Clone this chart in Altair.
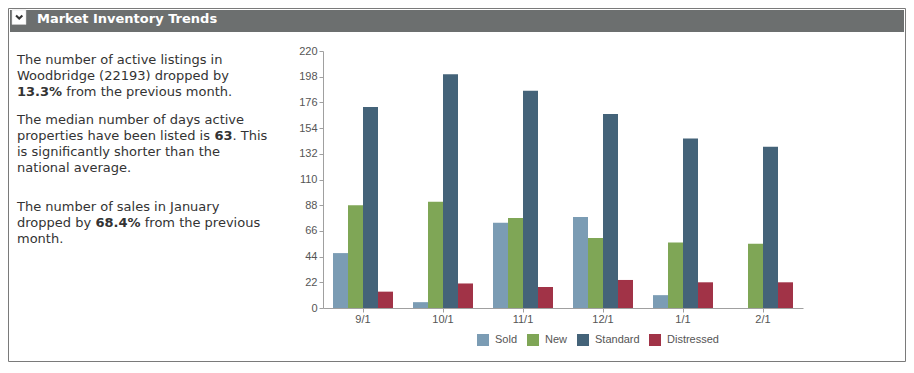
import altair as alt
import pandas as pd

# ---- data ----
months = ["9/1", "10/1", "11/1", "12/1", "1/1", "2/1"]
series = ["Sold", "New", "Standard", "Distressed"]
sold = [47, 5, 73, 78, 11, 0]
new = [88, 91, 77, 60, 56, 55]
standard = [172, 200, 186, 166, 145, 138]
distressed = [14, 21, 18, 24, 22, 22]
colors = ["#7b9cb4", "#7fa656", "#446379", "#a13347"]
y_ticks = list(range(0, 221, 22))

header_title = "Market Inventory Trends"
# each line: list of (text, bold) segments
paragraphs = [
    [[("The number of active listings in", False)],
     [("Woodbridge (22193) dropped by", False)],
     [("13.3%", True), (" from the previous month.", False)]],
    [[("The median number of days active", False)],
     [("properties have been listed is ", False), ("63", True), (". This", False)],
     [("is significantly shorter than the", False)],
     [("national average.", False)]],
    [[("The number of sales in January", False)],
     [("dropped by ", False), ("68.4%", True), (" from the previous", False)],
     [("month.", False)]],
]
para_baselines = [[64, 80, 96], [124, 140, 156, 172], [211, 227, 243]]

rows = []
for i, m in enumerate(months):
    for s, vals in zip(series, [sold, new, standard, distressed]):
        rows.append({"month": m, "series": s, "value": vals[i]})
df = pd.DataFrame(rows)

# ---- layout helpers (page px -> plot px) ----
PLOT_X0, PLOT_Y0 = 323, 51
W, H = 480, 257
TOTAL_W, TOTAL_H = 898, 355


def px(v):
    return v - PLOT_X0


def py(v):
    return v - PLOT_Y0


# approximate DejaVu Sans advance widths (units per em 2048)
REG = {" ": 651, "a": 1255, "b": 1300, "c": 1126, "d": 1300, "e": 1260, "f": 721,
       "g": 1300, "h": 1298, "i": 569, "l": 569, "m": 1995, "n": 1298, "o": 1253,
       "p": 1300, "r": 842, "s": 1067, "t": 803, "u": 1298, "v": 1212, "y": 1212}
BOLD = {"0": 1425, "1": 1425, "2": 1425, "3": 1425, "4": 1425, "5": 1425,
        "6": 1425, "7": 1425, "8": 1425, "9": 1425, ".": 780, "%": 2052, " ": 713}
FS = 13


def tw(s, bold):
    table = BOLD if bold else REG
    return sum(table.get(c, 1250) for c in s) / 2048 * FS


one = pd.DataFrame({"k": [0]})
TEXT_FONT = "DejaVu Sans"

layers = []
# outer border
layers.append(alt.Chart(one).mark_rect(fill="#ffffff", fillOpacity=0, stroke="#7a7a7a", strokeWidth=1).encode(
    x=alt.value(px(8.5)), x2=alt.value(px(905.5)), y=alt.value(py(8.5)), y2=alt.value(py(361.5))))
# header bar
layers.append(alt.Chart(one).mark_rect(fill="#6c6f6f").encode(
    x=alt.value(px(10)), x2=alt.value(px(904)), y=alt.value(py(10)), y2=alt.value(py(32))))
# header toggle box
layers.append(alt.Chart(one).mark_rect(fill="#ffffff", stroke="#d0d0d0", strokeWidth=0.5).encode(
    x=alt.value(px(12)), x2=alt.value(px(26)), y=alt.value(py(10)), y2=alt.value(py(24.5))))
layers.append(alt.Chart(one).mark_point(shape="M-1,-0.5L0,0.5L1,-0.5", filled=False, stroke="#333333",
                                         strokeWidth=2, size=40, opacity=1).encode(
    x=alt.value(px(19.2)), y=alt.value(py(17))))
layers.append(alt.Chart(one).mark_text(align="left", baseline="alphabetic", font=TEXT_FONT, fontSize=13,
                                        fontWeight="bold", color="#ffffff").encode(
    x=alt.value(px(37)), y=alt.value(py(23)), text=alt.value(header_title)))

# paragraph text
for para, bases in zip(paragraphs, para_baselines):
    for line, base in zip(para, bases):
        x = 17.0
        for seg, bold in line:
            lead = len(seg) - len(seg.lstrip(" "))
            x += tw(" " * lead, bold)
            body = seg.strip(" ")
            layers.append(alt.Chart(one).mark_text(
                align="left", baseline="alphabetic", font=TEXT_FONT, fontSize=FS,
                fontWeight="bold" if bold else "normal", color="#333333").encode(
                x=alt.value(px(x)), y=alt.value(py(base)), text=alt.value(body)))
            x += tw(seg.lstrip(" "), bold)

AXIS_FONT = "Liberation Sans"
bars = alt.Chart(df).mark_bar().encode(
    x=alt.X("month:N", sort=months, title=None,
            scale=alt.Scale(paddingInner=0.25, paddingOuter=0.125),
            axis=alt.Axis(labelAngle=0, labelFont=AXIS_FONT, labelFontSize=11, labelColor="#555555",
                          domainColor="#a0a0a0", tickColor="#a0a0a0", tickSize=4, labelPadding=1)),
    xOffset=alt.XOffset("series:N", sort=series, scale=alt.Scale(paddingInner=0, paddingOuter=0)),
    y=alt.Y("value:Q", title=None, scale=alt.Scale(domain=[0, 220], nice=False),
            axis=alt.Axis(values=y_ticks, grid=False, labelFont=AXIS_FONT, labelFontSize=11,
                          labelColor="#555555", domainColor="#a0a0a0", tickColor="#a0a0a0",
                          tickSize=4, labelPadding=2)),
    color=alt.Color("series:N", sort=series, scale=alt.Scale(domain=series, range=colors),
                    legend=alt.Legend(title=None, orient="none", direction="horizontal",
                                      legendX=px(477), legendY=py(334), symbolType="square",
                                      symbolSize=144, symbolStrokeWidth=0, symbolOpacity=1,
                                      labelFont=AXIS_FONT, labelFontSize=11, labelColor="#555555",
                                      labelOffset=6, columnPadding=9)),
)
layers.append(bars)

chart = alt.layer(*layers).properties(
    width=W, height=H,
    autosize=alt.AutoSizeParams(type="none"),
    padding={"left": PLOT_X0 - 8, "top": PLOT_Y0 - 8,
             "right": TOTAL_W - (PLOT_X0 - 8) - W, "bottom": TOTAL_H - (PLOT_Y0 - 8) - H},
).configure_view(strokeWidth=0)

chart.save("out.html", embed_options={"renderer": "svg", "actions": False})
